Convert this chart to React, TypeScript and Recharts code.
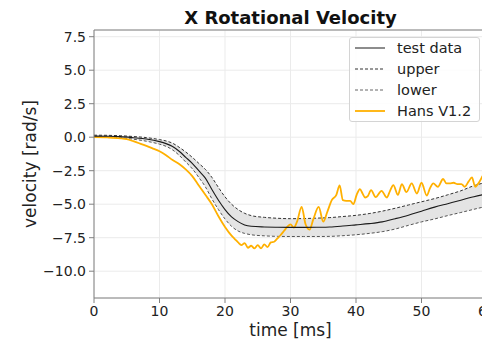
import { ComposedChart, Line, Area, XAxis, YAxis, CartesianGrid, ReferenceLine } from 'recharts';

// test corridor samples (time in ms, velocity in rad/s)
const TIME = [0, 2, 4, 6, 8, 10, 11, 12, 13, 14, 15, 16, 17, 18, 19, 20, 21, 22, 23, 24, 26, 28, 30, 32, 34, 36, 38, 40, 42, 44, 46, 48, 50, 52, 54, 56, 58, 60];
const TEST = [0.08, 0.07, 0.04, -0.04, -0.14, -0.33, -0.48, -0.7, -1.05, -1.5, -1.95, -2.5, -3.05, -3.9, -4.7, -5.4, -5.95, -6.3, -6.55, -6.65, -6.7, -6.72, -6.73, -6.73, -6.72, -6.7, -6.63, -6.54, -6.45, -6.32, -6.08, -5.82, -5.52, -5.22, -4.96, -4.7, -4.45, -4.22];
const UPPER = [0.15, 0.14, 0.11, 0.05, -0.03, -0.18, -0.28, -0.45, -0.75, -1.1, -1.5, -1.95, -2.4, -3.0, -3.75, -4.45, -5.0, -5.4, -5.68, -5.85, -5.98, -6.05, -6.08, -6.07, -6.04, -6.0, -5.92, -5.83, -5.7, -5.52, -5.3, -5.06, -4.82, -4.58, -4.3, -4.0, -3.62, -3.35];
const LOWER = [0.0, -0.01, -0.05, -0.15, -0.3, -0.52, -0.68, -0.95, -1.35, -1.85, -2.35, -3.0, -3.7, -4.6, -5.4, -6.1, -6.65, -7.0, -7.18, -7.28, -7.36, -7.4, -7.41, -7.41, -7.41, -7.4, -7.35, -7.28, -7.18, -7.05, -6.85, -6.58, -6.32, -6.1, -5.85, -5.62, -5.38, -5.15];

// model response
const HANS_TIME = [0, 2, 4, 5, 6, 7, 8, 9, 10, 11, 12, 13, 14, 15, 16, 17, 18, 19, 20, 21, 21.5, 22, 22.5, 23, 23.5, 24, 24.5, 25, 25.5, 26, 26.5, 27, 27.5, 28, 28.5, 29, 29.5, 30, 30.5, 31, 31.7, 32.3, 32.9, 33.5, 34.3, 35, 35.6, 36.3, 37, 37.5, 38, 38.5, 39.1, 39.6, 40.1, 40.6, 41, 41.4, 41.8, 42.3, 43, 43.9, 44.7, 45.2, 45.7, 46.4, 47, 47.7, 48.5, 49.3, 50, 50.8, 51.3, 51.8, 52.5, 53.3, 53.8, 54.3, 54.9, 55.5, 56.1, 56.6, 57.2, 57.7, 58.2, 58.6, 59, 59.5, 60];
const HANS = [0, -0.02, -0.08, -0.15, -0.3, -0.47, -0.65, -0.85, -1.05, -1.35, -1.7, -2.0, -2.4, -2.9, -3.6, -4.3, -5.0, -5.9, -6.7, -7.35, -7.6, -7.85, -8.05, -7.9, -8.25, -8.1, -8.3, -8.05, -8.3, -8.0, -8.2, -7.85, -7.8, -7.55, -7.3, -7.0, -6.7, -6.5, -6.75, -6.3, -5.2, -6.5, -6.9, -6.1, -5.2, -6.3, -5.6, -4.7, -4.3, -3.6, -4.7, -4.75, -4.75, -5.0, -4.3, -3.87, -4.2, -4.5, -4.4, -3.95, -4.47, -4.0, -4.5, -4.0, -3.57, -4.3, -3.5, -4.1, -3.45, -4.2, -3.4, -4.35, -3.8, -3.45, -3.7, -3.12, -3.45, -3.45, -3.4, -3.5, -3.5, -3.7, -3.3, -3.0, -3.7, -3.5, -3.2, -2.8, -3.0];

const X_TICKS = [0, 10, 20, 30, 40, 50, 60];
const Y_TICKS = [-10, -7.5, -5, -2.5, 0, 2.5, 5, 7.5];

const FONT = '"DejaVu Sans", sans-serif';
const ORANGE = '#FFB000';
const AXIS = '#808080';
const TEXT = '#222';

const LEGEND = [
  { label: 'test data', color: '#1a1a1a', dash: undefined },
  { label: 'upper', color: '#333', dash: '3 2' },
  { label: 'lower', color: '#666', dash: '3 2' },
  { label: 'Hans V1.2', color: ORANGE, dash: undefined },
];

const corridor = TIME.map((t, i) => ({
  t,
  test: TEST[i],
  upper: UPPER[i],
  lower: LOWER[i],
  band: [LOWER[i], UPPER[i]],
}));

const hans = HANS_TIME.map((t, i) => ({ t, hans: HANS[i] }));

const fmtY = (v: number) => v.toFixed(1).replace('-', '\u2212');

function LegendBox() {
  return (
    <div
      style={{
        position: 'absolute',
        left: 349,
        top: 37,
        width: 131,
        boxSizing: 'border-box',
        background: 'rgba(255,255,255,0.85)',
        border: '1px solid #d4d4d4',
        borderRadius: 3,
        padding: '0 0 0 5px',
        fontFamily: FONT,
        fontSize: 14.5,
        color: TEXT,
      }}
    >
      {LEGEND.map((item) => (
        <div key={item.label} style={{ display: 'flex', alignItems: 'center', height: 20.8 }}>
          <svg width={30} height={4} style={{ marginRight: 12 }}>
            <line
              x1={0}
              x2={30}
              y1={2}
              y2={2}
              stroke={item.color}
              strokeWidth={item.color === ORANGE ? 1.8 : 1}
              strokeDasharray={item.dash}
            />
          </svg>
          <span>{item.label}</span>
        </div>
      ))}
    </div>
  );
}

export default function App() {
  return (
    <div
      style={{
        position: 'absolute',
        left: 0,
        top: 0,
        width: 482,
        height: 341,
        overflow: 'hidden',
        background: '#fff',
      }}
    >
      <div
        style={{
          position: 'absolute',
          left: 94,
          width: 393,
          top: 9,
          textAlign: 'center',
          fontFamily: FONT,
          fontWeight: 'bold',
          fontSize: 18,
          lineHeight: '18px',
          color: '#111',
        }}
      >
        X Rotational Velocity
      </div>
      <ComposedChart width={500} height={341} margin={{ top: 30, right: 13, bottom: 0, left: 0 }}>
        <CartesianGrid stroke="#ebebeb" />
        <XAxis
          dataKey="t"
          type="number"
          domain={[0, 60]}
          ticks={X_TICKS}
          allowDataOverflow
          height={43}
          tickSize={5}
          tickMargin={3}
          stroke={AXIS}
          tick={{ fontSize: 14, fill: TEXT, fontFamily: FONT }}
          label={{ value: 'time [ms]', position: 'insideBottom', offset: 5, fontSize: 17, fill: TEXT, fontFamily: FONT }}
        />
        <YAxis
          type="number"
          domain={[-12, 8]}
          ticks={Y_TICKS}
          allowDataOverflow
          width={94}
          tickSize={5}
          tickMargin={3}
          stroke={AXIS}
          tickFormatter={fmtY}
          tick={{ fontSize: 14, fill: TEXT, fontFamily: FONT }}
          label={{ value: 'velocity [rad/s]', angle: -90, position: 'center', dx: -17, fontSize: 17, fill: TEXT, fontFamily: FONT }}
        />
        <ReferenceLine y={8} stroke={AXIS} />
        <Area
          data={corridor}
          dataKey="band"
          type="monotone"
          fill="#e4e4e4"
          fillOpacity={1}
          stroke="none"
          isAnimationActive={false}
        />
        <Line data={corridor} dataKey="upper" type="monotone" stroke="#333" strokeWidth={1} strokeDasharray="3 2" dot={false} isAnimationActive={false} />
        <Line data={corridor} dataKey="lower" type="monotone" stroke="#555" strokeWidth={1} strokeDasharray="3 2" dot={false} isAnimationActive={false} />
        <Line data={hans} dataKey="hans" type="monotone" stroke={ORANGE} strokeWidth={1.8} dot={false} isAnimationActive={false} />
        <Line data={corridor} dataKey="test" type="monotone" stroke="#1a1a1a" strokeWidth={1.1} dot={false} isAnimationActive={false} />
      </ComposedChart>
      <LegendBox />
    </div>
  );
}
